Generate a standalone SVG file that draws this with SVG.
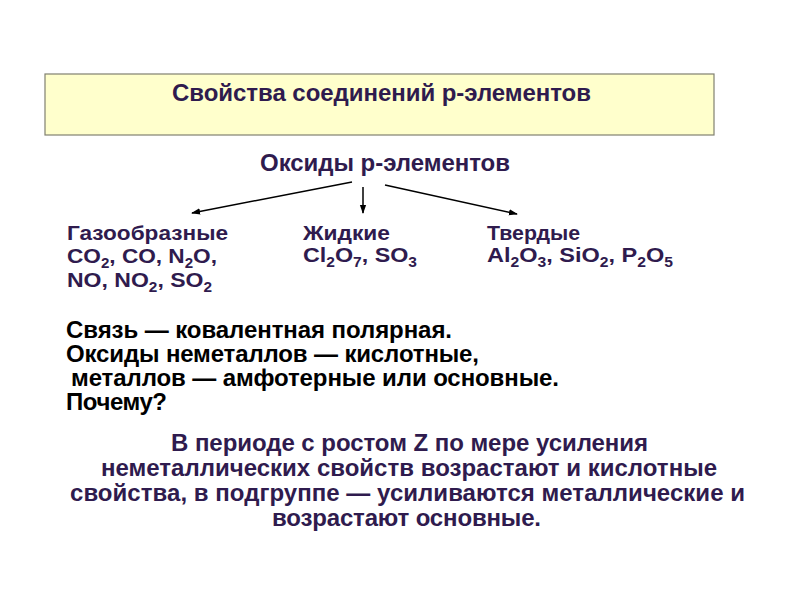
<svg xmlns="http://www.w3.org/2000/svg" width="794" height="595" viewBox="0 0 794 595">
<defs>
<marker id="ah" viewBox="0 0 10 10" refX="9" refY="5" markerWidth="9" markerHeight="9" orient="auto" markerUnits="userSpaceOnUse"><path d="M0,1.5 L10,5 L0,8.5 z" fill="#000"/></marker>
<style>
text{font-family:"Liberation Sans",Arial,sans-serif;font-weight:bold;font-size:24px}
.p{fill:#2f1b4e}
.k{fill:#000}
.g{font-size:21px}
.sub{font-size:14px}
#connectors line{stroke:#000;stroke-width:1.5;marker-end:url(#ah)}
</style>
</defs>
<rect width="794" height="595" fill="#fff"/>
<g id="title">
<rect x="45" y="74" width="669" height="61" fill="#ffffcc" stroke="#808070" stroke-width="1.2"/>
<text class="p" x="172" y="101" textLength="419">Свойства соединений р-элементов</text>
</g>
<g id="oxides">
<text class="p" x="260" y="171" textLength="250">Оксиды р-элементов</text>
</g>
<g id="connectors">
<line x1="352" y1="182" x2="192" y2="213"/>
<line x1="363" y1="187" x2="363" y2="213"/>
<line x1="385" y1="185" x2="517" y2="214"/>
</g>
<g id="gas">
<text class="p g" x="67" y="240" textLength="161" lengthAdjust="spacingAndGlyphs">Газообразные</text>
<text class="p g" x="67" y="263" textLength="150" lengthAdjust="spacingAndGlyphs">CO<tspan class="sub" dy="5">2</tspan><tspan dy="-5">, CO, N</tspan><tspan class="sub" dy="5">2</tspan><tspan dy="-5">O,</tspan></text>
<text class="p g" x="67" y="287" textLength="145" lengthAdjust="spacingAndGlyphs">NO, NO<tspan class="sub" dy="5">2</tspan><tspan dy="-5">, SO</tspan><tspan class="sub" dy="5">2</tspan></text>
</g>
<g id="liquid">
<text class="p g" x="303" y="240" textLength="87" lengthAdjust="spacingAndGlyphs">Жидкие</text>
<text class="p g" x="303" y="262" textLength="114" lengthAdjust="spacingAndGlyphs">Cl<tspan class="sub" dy="5">2</tspan><tspan dy="-5">O</tspan><tspan class="sub" dy="5">7</tspan><tspan dy="-5">, SO</tspan><tspan class="sub" dy="5">3</tspan></text>
</g>
<g id="solid">
<text class="p g" x="487" y="240" textLength="93" lengthAdjust="spacingAndGlyphs">Твердые</text>
<text class="p g" x="487" y="262" textLength="186" lengthAdjust="spacingAndGlyphs">Al<tspan class="sub" dy="5">2</tspan><tspan dy="-5">O</tspan><tspan class="sub" dy="5">3</tspan><tspan dy="-5">, SiO</tspan><tspan class="sub" dy="5">2</tspan><tspan dy="-5">, P</tspan><tspan class="sub" dy="5">2</tspan><tspan dy="-5">O</tspan><tspan class="sub" dy="5">5</tspan></text>
</g>
<g id="bond">
<text class="k" x="66" y="338" textLength="386">Связь — ковалентная полярная.</text>
<text class="k" x="66" y="362" textLength="413">Оксиды неметаллов — кислотные,</text>
<text class="k" x="71" y="386" textLength="488">металлов — амфотерные или основные.</text>
<text class="k" x="66" y="410" textLength="101">Почему?</text>
</g>
<g id="answer">
<text class="p" x="171" y="451" textLength="477">В периоде с ростом Z по мере усиления</text>
<text class="p" x="101" y="476" textLength="616">неметаллических свойств возрастают и кислотные</text>
<text class="p" x="70" y="501" textLength="675">свойства, в подгруппе — усиливаются металлические и</text>
<text class="p" x="272" y="526" textLength="269">возрастают основные.</text>
</g>
</svg>
